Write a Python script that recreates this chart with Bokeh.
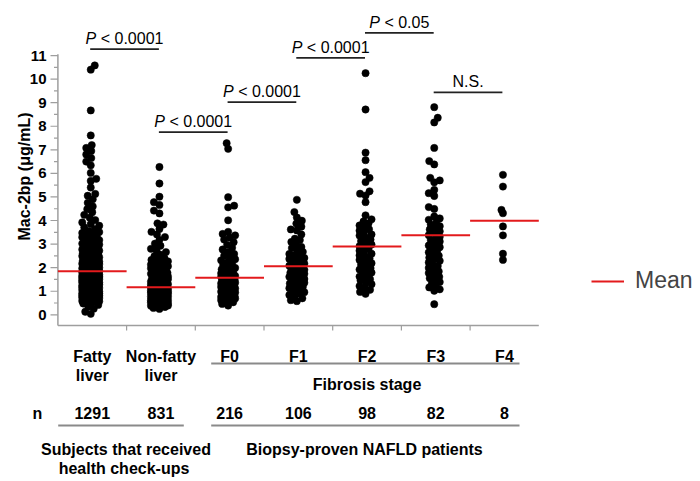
import numpy as np
from bokeh.plotting import figure
from bokeh.models import Legend, LegendItem
from bokeh.core.properties import value
from bokeh.embed import file_html
from bokeh.resources import INLINE

# ---------------- data ----------------
categories = ["Fatty\nliver", "Non-fatty\nliver", "F0", "F1", "F2", "F3", "F4"]
n_labels = ["1291", "831", "216", "106", "98", "82", "8"]
means = [1.85, 1.17, 1.57, 2.06, 2.90, 3.37, 3.99]

fatty_liver = [
    10.58, 10.40, 8.67, 7.61, 7.20, 7.08, 6.95, 6.80, 6.65, 6.50, 6.34, 6.02, 5.77,
    5.68, 5.40, 5.13, 5.05, 4.90, 4.75, 4.60,
    1.42, 0.88, 2.15, 1.67, 0.73, 3.05, 1.21, 1.95, 2.48, 0.61, 1.33, 2.77, 1.08,
    1.84, 3.42, 0.95, 2.02, 1.56, 0.69, 2.34, 1.15, 1.73, 2.91, 0.82, 1.48, 3.78,
    1.27, 2.21, 0.57, 1.62, 2.63, 1.01, 1.89, 3.21, 0.78, 1.39, 2.09, 4.12, 1.18,
    1.77, 2.55, 0.66, 1.52, 2.86, 0.92, 1.99, 3.55, 1.31, 2.42, 0.84, 1.69, 2.27,
    1.05, 3.14, 1.46, 0.71, 2.68, 1.93, 1.24, 3.92, 0.99, 1.58, 2.38, 1.12, 0.53,
    2.05, 1.81, 3.33, 1.36, 2.72, 0.87, 1.64, 2.19, 4.35, 1.02, 1.44, 2.96, 0.76,
    1.91, 2.51, 1.22, 3.63, 0.63, 1.71, 2.13, 1.29, 0.94, 2.82, 1.54, 3.09, 1.87,
    0.81, 2.44, 1.16, 1.61, 3.47, 0.59, 2.24, 1.97, 1.35, 2.59, 0.97, 4.02, 1.75,
    1.09, 2.31, 0.68, 1.51, 3.26, 2.07, 1.41, 0.90, 2.66, 1.79, 1.19, 3.71, 0.75,
    2.17, 1.59, 4.48, 1.04, 2.88, 1.86, 0.56, 1.38, 2.36, 3.17, 1.25, 0.83, 1.66,
    2.53, 4.24, 1.13, 3.85, 2.00,
    1.47, 0.93, 2.26, 1.63, 0.79, 2.98, 1.17, 1.92, 2.43, 0.64, 1.34, 2.71, 1.06,
    1.82, 3.38, 0.91, 2.11, 1.53, 0.72, 2.29, 1.11, 1.76, 2.84, 0.86, 1.43, 3.51,
    1.23, 2.18, 0.58, 1.68, 2.57, 0.98, 1.85, 3.12, 0.74, 1.37, 2.04, 1.14, 1.72,
    2.49, 0.67, 1.55, 2.79, 0.89, 1.96, 3.29, 1.28, 2.39, 0.82, 1.65, 2.23, 1.03,
    3.02, 1.49, 0.77, 2.61, 1.88, 1.26, 0.96, 1.57, 2.33, 1.07, 0.54, 2.01, 1.78,
    1.32, 2.69, 0.85, 1.61, 2.14, 1.00, 1.45, 2.93, 0.73, 1.90, 2.46, 1.20, 0.62,
    1.70, 2.08,
    0.48, 0.42, 0.35, 0.26, 0.13, 0.04,
]
non_fatty_liver = [
    6.27, 5.57, 5.01, 4.78, 4.66, 4.42, 4.30, 3.88, 3.83, 3.64, 3.52, 3.41, 3.30,
    3.18, 3.02, 2.93, 2.80, 2.74, 2.66, 2.55, 2.49, 2.40, 2.33, 2.27, 2.20, 2.13,
    2.06, 2.01, 1.96,
    0.62, 1.05, 0.45, 1.38, 0.83, 1.72, 0.51, 1.16, 0.97, 1.94, 0.68, 1.27, 0.39,
    1.49, 0.88, 2.12, 0.57, 1.09, 0.76, 1.61, 0.33, 1.21, 0.93, 1.83, 0.48, 1.33,
    0.71, 2.25, 0.64, 1.02, 1.44, 0.86, 0.42, 1.56, 0.79, 1.13, 2.03, 0.55, 0.99,
    1.67, 0.73, 1.25, 0.36, 1.89, 0.91, 1.07, 0.59, 1.41, 0.81, 2.35, 0.47, 1.18,
    1.53, 0.66, 0.95, 1.78, 0.29, 1.30, 0.84, 1.11, 0.52, 1.99, 0.74, 1.36, 1.01,
    0.61, 1.63, 0.89, 0.44, 1.23, 0.77, 2.17, 0.69, 1.46, 0.96, 0.54, 1.14, 1.74,
    0.41, 0.87, 1.31, 0.63, 1.58, 1.04, 0.25, 0.78, 1.97, 0.92, 1.19, 0.58,
    0.65, 1.08, 0.47, 1.35, 0.85, 1.69, 0.53, 1.15, 0.99, 0.70, 1.26, 0.40, 1.51,
    0.90, 0.56, 1.06, 0.75, 1.60, 0.34, 1.22, 0.94, 1.80, 0.50, 1.32, 0.72, 0.60,
    1.00, 1.42, 0.82, 0.43, 1.55, 0.80, 1.12, 0.57, 0.97, 1.65, 0.68, 1.20, 0.38,
    0.88,
]
f0 = [
    7.28, 7.04, 4.99, 4.63, 4.56, 4.01, 3.52, 3.43, 3.37, 3.28, 3.19, 3.08, 2.97,
    2.84, 2.77, 2.66, 2.58, 2.51, 2.45, 2.36, 2.31, 2.22, 2.18, 2.11, 2.03, 1.99,
    1.93, 1.88, 1.87, 1.81, 1.76, 1.72, 1.71, 1.65, 1.61, 1.58, 1.55, 1.51, 1.48,
    1.47, 1.42, 1.38, 1.36, 1.33, 1.29, 1.27, 1.24, 1.21, 1.18, 1.17, 1.12, 1.09,
    1.06, 1.04, 1.01, 0.98, 0.96, 0.93, 0.90, 0.88, 0.85, 0.82, 0.79, 0.78, 0.74,
    0.72, 0.69, 0.65, 0.62, 0.57, 0.53, 0.46, 0.39, 1.52, 1.14, 0.87, 1.35, 1.68,
    0.95, 1.23, 0.76, 1.44,
]
f1 = [
    4.88, 4.36, 4.13, 3.99, 3.87, 3.74, 3.62, 3.58, 3.41, 3.23, 3.17, 3.09, 2.96,
    2.88, 2.83, 2.72, 2.67, 2.58, 2.52, 2.46, 2.41, 2.37, 2.30, 2.26, 2.21, 2.17,
    2.12, 2.08, 2.04, 1.99, 1.95, 1.91, 1.86, 1.83, 1.78, 1.74, 1.69, 1.66, 1.61,
    1.57, 1.52, 1.47, 1.44, 1.38, 1.33, 1.29, 1.24, 1.19, 1.13, 1.07, 1.02, 0.96,
    0.90, 0.84, 0.79, 0.70, 0.62, 0.58, 2.03, 1.72, 1.36,
]
f2 = [
    10.25, 8.71, 6.88, 6.56, 6.05, 5.81, 5.63, 5.24, 5.14, 5.06, 4.78, 4.22, 4.05,
    3.96, 3.88, 3.79, 3.72, 3.63, 3.57, 3.49, 3.41, 3.36, 3.28, 3.19, 3.13, 3.05,
    2.98, 2.91, 2.86, 2.79, 2.72, 2.64, 2.59, 2.52, 2.46, 2.39, 2.33, 2.27, 2.19,
    2.12, 2.06, 1.98, 1.92, 1.85, 1.79, 1.73, 1.66, 1.58, 1.51, 1.45, 1.37, 1.30,
    1.22, 1.15, 1.06, 0.97, 0.89, 2.41, 1.62, 1.94,
]
f3 = [
    8.81, 8.36, 8.16, 7.08, 6.52, 6.38, 5.81, 5.70, 5.62, 5.30, 5.16, 5.04, 4.57,
    4.49, 4.17, 4.09, 4.03, 3.91, 3.83, 3.76, 3.71, 3.62, 3.54, 3.47, 3.38, 3.31,
    3.24, 3.17, 3.11, 3.02, 2.94, 2.87, 2.81, 2.73, 2.65, 2.58, 2.51, 2.43, 2.37,
    2.29, 2.22, 2.14, 2.07, 1.99, 1.92, 1.84, 1.77, 1.69, 1.61, 1.55, 1.47, 1.39,
    1.31, 1.24, 1.16, 1.08, 1.02, 0.45,
]
f4 = [5.94, 5.44, 4.45, 4.31, 3.75, 3.37, 2.59, 2.33]
groups = [fatty_liver, non_fatty_liver, f0, f1, f2, f3, f4]

y_ticks = list(range(0, 12))
y_minor_ticks = [t + 0.5 for t in range(11)]

bracket_left = [0, 1, 2, 3, 4, 5]
bracket_right = [1, 2, 3, 4, 5, 6]
bracket_level = [11.27, 7.75, 9.02, 10.90, 11.96, 9.44]
bracket_italic = ["P", "P", "P", "P", "P", ""]
bracket_rest = ["< 0.0001", "< 0.0001", "< 0.0001", "< 0.0001", "< 0.05", "N.S."]

# ---------------- layout helpers (pixel geometry of the page) ----------------
W, H = 700, 478
X0, CW = 57.4, 68.7       # px of the first category edge, px per category
Y0, YS = 314.3, 23.57     # px of value 0, px per unit


def ux(X):
    return (X - X0) / CW


def vy(Y):
    return (Y0 - Y) / YS


FONT = value("Liberation Sans")
AX_COL = "#9e9e9e"
TAB_COL = "#8a8a8a"
RED = "#e31a1c"

CHW = {"P": 0.667, " ": 0.278, "<": 0.584, "0": 0.556, ".": 0.278, "5": 0.556,
       "1": 0.556, "N": 0.722, "S": 0.667}


def text_w(s, size):
    return sum(CHW.get(c, 0.556) for c in s) * size


def swarm(vals, maxw, min_d=5.8):
    vals = np.asarray(vals, float)
    ypx = vals * YS
    order = np.argsort(vals, kind="stable")
    offs = np.zeros(len(vals))
    pxs, pys = [], []
    steps = np.arange(1, int(maxw * 2) + 1) * 0.5
    for n, i in enumerate(order):
        y = ypx[i]
        sgn = 1 if n % 2 == 0 else -1
        cands = [0.0]
        for s in steps:
            if s > maxw:
                break
            cands += [sgn * s, -sgn * s]
        PX, PY = np.array(pxs), np.array(pys)
        if len(PX):
            near = np.abs(PY - y) < min_d
            PX, PY = PX[near], PY[near]
        best, bestd = 0.0, -1.0
        for c in cands:
            if len(PX) == 0:
                best = c
                break
            d = float(np.min(np.hypot(PX - c, PY - y)))
            if d >= min_d:
                best = c
                break
            if d > bestd:
                bestd, best = d, c
        offs[i] = best
        pxs.append(best)
        pys.append(y)
    return offs


p = figure(width=W, height=H, x_range=(ux(0), ux(W)), y_range=(vy(H), vy(0)),
           output_backend="svg", toolbar_location=None, x_axis_type=None,
           y_axis_type=None, min_border=0, title=None)
p.outline_line_color = None
p.background_fill_color = "white"

# ---------------- axes (drawn) ----------------
ybot = vy(325)
p.segment(x0=[0], y0=[ybot], x1=[0], y1=[y_ticks[-1] + 0.05], line_color=AX_COL, line_width=1.5)
p.segment(x0=[0], y0=[ybot], x1=[len(categories)], y1=[ybot], line_color=AX_COL, line_width=1.5)
p.segment(x0=[ux(50)] * len(y_ticks), y0=y_ticks, x1=[0] * len(y_ticks), y1=y_ticks,
          line_color=AX_COL, line_width=1.2)
p.segment(x0=[ux(53.5)] * len(y_minor_ticks), y0=y_minor_ticks, x1=[0] * len(y_minor_ticks),
          y1=y_minor_ticks, line_color=AX_COL, line_width=1.2)
xt = list(range(1, len(categories)))
p.segment(x0=xt, y0=[ybot] * len(xt), x1=xt, y1=[vy(330)] * len(xt), line_color=AX_COL, line_width=1.2)
p.text(x=[ux(46)] * len(y_ticks), y=y_ticks, text=[str(t) for t in y_ticks], text_font=FONT,
       text_font_size="15px", text_font_style="bold", text_align="right", text_baseline="middle",
       text_color="black")
p.text(x=[ux(24)], y=[vy(176)], text=["Mac-2bp (\u03bcg/mL)"], angle=np.pi / 2, text_font=FONT,
       text_font_size="16px", text_font_style="bold", text_align="center", text_baseline="middle",
       text_color="black")

# ---------------- points ----------------
maxws = [8.5, 8.5, 7.0, 7.5, 6.0, 5.5, 1.5]
for gi, (vals, mw) in enumerate(zip(groups, maxws)):
    offs = swarm(vals, mw)
    xs = gi + 0.5 + (offs - 1.5) / CW
    p.scatter(x=xs, y=vals, size=7.3, marker="circle", fill_color="black", line_color="black",
              line_width=0.5)

# ---------------- means ----------------
idx = list(range(len(categories)))
mean_r = p.segment(x0=idx, y0=means, x1=[i + 1 for i in idx], y1=means, line_color=RED, line_width=2)

legend = Legend(items=[LegendItem(label="Mean", renderers=[mean_r])], location=(591, H - 294),
                background_fill_alpha=0, border_line_alpha=0, padding=0, margin=0,
                glyph_width=33, glyph_height=20, label_standoff=11,
                label_text_font="Liberation Sans", label_text_font_size="23px")
p.add_layout(legend)

# ---------------- significance brackets ----------------
for i, j, lev, it, rest in zip(bracket_left, bracket_right, bracket_level, bracket_italic, bracket_rest):
    xa, xb = i + 0.47, j + 0.47
    p.segment(x0=[xa], y0=[lev], x1=[xb], y1=[lev], line_color="#222222", line_width=1.8)
    cx = (xa + xb) / 2
    ty = lev + 10.5 / YS
    if it:
        pre = it + " "
        total = text_w(pre + rest, 16)
        left = cx - total / 2 / CW
        p.text(x=[left], y=[ty], text=[it], text_font=FONT, text_font_size="16px",
               text_font_style="italic", text_align="left", text_baseline="alphabetic",
               text_color="black")
        p.text(x=[left + text_w(pre, 16) / CW], y=[ty], text=[rest], text_font=FONT,
               text_font_size="16px", text_align="left", text_baseline="alphabetic",
               text_color="black")
    else:
        p.text(x=[cx], y=[ty], text=[rest], text_font=FONT, text_font_size="16px",
               text_align="center", text_baseline="alphabetic", text_color="black")

# ---------------- table below the axis ----------------
centers = [i + 0.5 for i in idx]
row1 = [c.split("\n")[0] for c in categories]
row2 = [c.split("\n")[1] if "\n" in c else "" for c in categories]
bold = dict(text_font=FONT, text_font_size="16px", text_font_style="bold", text_align="center",
            text_baseline="alphabetic", text_color="black")
p.text(x=centers, y=[vy(356)] * len(idx), text=row1, **bold)
p.text(x=centers, y=[vy(375)] * len(idx), text=row2, **bold)
p.text(x=centers, y=[vy(412.7)] * len(idx), text=n_labels, **bold)
p.text(x=[ux(37)], y=[vy(412.7)], text=["n"], **bold)
p.text(x=[(centers[2] + centers[6]) / 2], y=[vy(384)], text=["Fibrosis stage"], **bold)
p.text(x=[ux(125.5)], y=[vy(449.3)], text=["Subjects that received"], **bold)
p.text(x=[ux(123.5)], y=[vy(468)], text=["health check-ups"], **bold)
p.text(x=[ux(364)], y=[vy(449.3)], text=["Biopsy-proven NAFLD patients"], **bold)
p.segment(x0=[ux(210.7)], y0=[vy(363)], x1=[ux(519)], y1=[vy(363)], line_color=TAB_COL, line_width=2)
p.segment(x0=[ux(57.7), ux(210.7)], y0=[vy(425)] * 2, x1=[ux(183.3), ux(519)], y1=[vy(425)] * 2,
          line_color=TAB_COL, line_width=2)

open("out.html", "w").write(file_html(p, INLINE))
